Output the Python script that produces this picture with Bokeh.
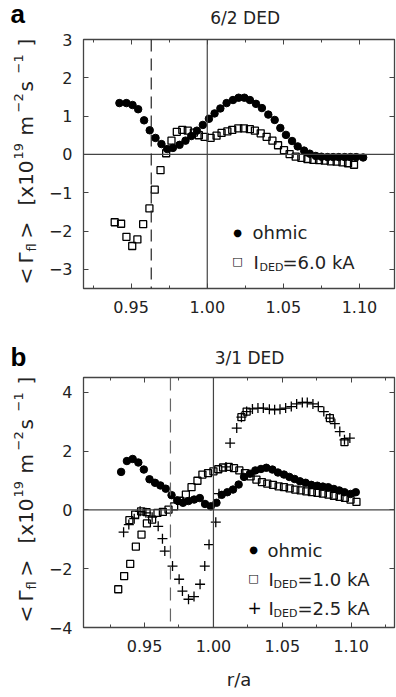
import math
from bokeh.plotting import figure
from bokeh.models import (Range1d, LinearAxis, FixedTicker, Span, Label,
                          CustomJSTickFormatter, ColumnDataSource)
from bokeh.layouts import column, row
from bokeh.embed import file_html
from bokeh.resources import INLINE

# ---------------- data: panel a (6/2 DED) ----------------
a_ohmic_r = [0.9423, 0.9469, 0.9509, 0.9546, 0.9585, 0.9622, 0.9660, 0.9699, 0.9737, 0.9774,
             0.9818, 0.9857, 0.9895, 0.9932, 0.9971, 1.0011, 1.0048, 1.0086, 1.0127, 1.0169,
             1.0206, 1.0244, 1.0280, 1.0320, 1.0359, 1.0401, 1.0443, 1.0480, 1.0517, 1.0557,
             1.0594, 1.0636, 1.0673, 1.0713, 1.0750, 1.0790, 1.0827, 1.0864, 1.0903, 1.0941,
             1.0978, 1.1024]
a_ohmic_g = [1.34, 1.34, 1.29, 1.18, 0.89, 0.63, 0.43, 0.27, 0.14, 0.17,
             0.25, 0.36, 0.48, 0.62, 0.77, 0.93, 1.07, 1.20, 1.34, 1.42,
             1.48, 1.48, 1.42, 1.32, 1.21, 1.04, 0.90, 0.69, 0.51, 0.35,
             0.21, 0.10, 0.02, -0.04, -0.06, -0.07, -0.07, -0.07, -0.07, -0.07,
             -0.07, -0.08]

a_ded_r = [0.9392, 0.9434, 0.9469, 0.9507, 0.9541, 0.9579, 0.9620, 0.9655, 0.9693, 0.9730,
           0.9765, 0.9800, 0.9836, 0.9872, 0.9912, 0.9945, 0.9982, 1.0022, 1.0061, 1.0094,
           1.0132, 1.0164, 1.0204, 1.0241, 1.0280, 1.0313, 1.0351, 1.0390, 1.0428, 1.0465,
           1.0504, 1.0541, 1.0581, 1.0618, 1.0658, 1.0697, 1.0734, 1.0772, 1.0811, 1.0850,
           1.0888, 1.0925, 1.0964]
a_ded_g = [-1.77, -1.81, -2.15, -2.39, -2.22, -1.82, -1.41, -0.92, -0.41, 0.03,
           0.36, 0.59, 0.64, 0.62, 0.57, 0.50, 0.46, 0.43, 0.49, 0.56,
           0.60, 0.64, 0.68, 0.68, 0.66, 0.62, 0.55, 0.46, 0.36, 0.24,
           0.11, 0.01, -0.06, -0.09, -0.12, -0.14, -0.15, -0.16, -0.18, -0.19,
           -0.21, -0.23, -0.27]

# ---------------- data: panel b (3/1 DED) ----------------
b_ohmic_r = [0.9330, 0.9372, 0.9414, 0.9455, 0.9495, 0.9536, 0.9576, 0.9615, 0.9654, 0.9696,
             0.9737, 0.9779, 0.9819, 0.9860, 0.9901, 0.9939, 0.9981, 1.0022, 1.0060, 1.0101,
             1.0142, 1.0183, 1.0222, 1.0265, 1.0304, 1.0345, 1.0384, 1.0428, 1.0468, 1.0512,
             1.0551, 1.0589, 1.0628, 1.0669, 1.0710, 1.0754, 1.0794, 1.0833, 1.0874, 1.0913,
             1.0951, 1.0995, 1.1033]
b_ohmic_g = [1.29, 1.66, 1.73, 1.61, 1.37, 1.04, 0.92, 0.83, 0.72, 0.50,
             0.32, 0.24, 0.30, 0.35, 0.40, 0.20, 0.12, 0.24, 0.51, 0.60,
             0.69, 0.86, 1.12, 1.23, 1.34, 1.39, 1.43, 1.37, 1.27, 1.20,
             1.12, 1.05, 0.97, 0.92, 0.85, 0.82, 0.79, 0.77, 0.71, 0.66,
             0.60, 0.54, 0.60]

b_ded1_r = [0.9309, 0.9352, 0.9396, 0.9437, 0.9478, 0.9517, 0.9555,
            0.9390, 0.9432, 0.9475, 0.9515, 0.9594, 0.9633, 0.9674, 0.9715, 0.9756,
            0.9800, 0.9841, 0.9884, 0.9920, 0.9961, 1.0000, 1.0035, 1.0070, 1.0111,
            1.0149, 1.0188, 1.0229, 1.0270, 1.0312, 1.0352, 1.0391, 1.0432, 1.0473,
            1.0512, 1.0553, 1.0594, 1.0633, 1.0674, 1.0714, 1.0754, 1.0794, 1.0835,
            1.0874, 1.0915, 1.0954, 1.0995, 1.1038,
            1.0203, 1.0241, 1.0845, 1.0951]
b_ded1_g = [-2.70, -2.25, -1.84, -1.25, -0.84, -0.46, -0.33,
            -0.35, -0.16, -0.05, -0.08, -0.10, -0.07, 0.01, 0.12, 0.31,
            0.52, 0.77, 0.99, 1.20, 1.25, 1.31, 1.38, 1.44, 1.46,
            1.42, 1.34, 1.25, 1.14, 1.03, 0.94, 0.89, 0.85, 0.80,
            0.77, 0.73, 0.69, 0.66, 0.63, 0.60, 0.58, 0.55, 0.52,
            0.48, 0.44, 0.41, 0.35, 0.27,
            3.15, 3.34, 3.12, 2.30]

b_ded25_r = [0.9348, 0.9386, 0.9425, 0.9468, 0.9510, 0.9555, 0.9599, 0.9630, 0.9647, 0.9703,
             0.9751, 0.9775, 0.9819, 0.9859, 0.9903, 0.9937, 0.9968, 1.0017, 1.0040, 1.0091,
             1.0121, 1.0169, 1.0203, 1.0241, 1.0283, 1.0323, 1.0362, 1.0406, 1.0444, 1.0483,
             1.0524, 1.0565, 1.0604, 1.0645, 1.0681, 1.0722, 1.0761, 1.0801, 1.0845, 1.0881,
             1.0917, 1.0951, 1.0990]
b_ded25_g = [-0.76, -0.50, -0.30, -0.05, -0.10, -0.25, -0.56, -0.98, -1.40, -1.91,
             -2.36, -2.76, -3.04, -2.95, -2.53, -1.91, -1.18, -0.42, 0.55, 1.46,
             2.27, 2.78, 3.15, 3.34, 3.43, 3.46, 3.46, 3.42, 3.40, 3.42,
             3.46, 3.51, 3.60, 3.65, 3.65, 3.60, 3.51, 3.34, 3.12, 2.93,
             2.66, 2.38, 2.44]

x_ticks = [0.95, 1.00, 1.05, 1.10]
x_minor = [0.925, 0.975, 1.025, 1.075, 1.125]
a_y_ticks = [-3, -2, -1, 0, 1, 2, 3]
b_y_ticks = [-4, -2, 0, 2, 4]
a_edge = 0.9632
b_edge = 0.9688

# ---------------- layout constants ----------------
LW = 44            # width of the left text strip
MW = 352           # width of the main figure
FL = 83 - LW       # left border inside main figure
FR = 2             # right border
INK = "#222222"
AX = "#444444"
FONT = "DejaVu Sans"
BASE_SHIFT = 0.3   # empirical: rendered baseline sits ~0.3em below the anchor


def make_main(height, top_border, bot_border, xr, yr, yticks, xlabel=None):
    p = figure(width=MW, height=height, x_range=Range1d(*xr), y_range=Range1d(*yr),
               title=None, output_backend="svg", toolbar_location=None,
               min_border_left=FL, min_border_right=FR,
               min_border_top=top_border, min_border_bottom=bot_border)
    p.grid.visible = False
    p.outline_line_color = AX
    p.outline_line_width = 1.3
    p.add_layout(LinearAxis(), "above")
    p.add_layout(LinearAxis(), "right")
    for ax in p.xaxis:
        ax.ticker = FixedTicker(ticks=x_ticks, minor_ticks=x_minor)
        ax.formatter = CustomJSTickFormatter(code="return tick.toFixed(2);")
    for ax in p.yaxis:
        ax.ticker = FixedTicker(ticks=yticks, minor_ticks=[])
        ax.formatter = CustomJSTickFormatter(
            code="return (tick < 0 ? '\\u2212' : '') + Math.abs(tick).toFixed(0);")
    for ax in p.axis:
        ax.major_tick_in = 5
        ax.major_tick_out = 0
        ax.minor_tick_in = 3
        ax.minor_tick_out = 0
        ax.axis_line_color = AX
        ax.major_tick_line_color = AX
        ax.minor_tick_line_color = AX
        ax.major_label_text_font = FONT
        ax.major_label_text_font_size = "16px"
        ax.major_label_text_color = INK
    for ax in p.below:
        ax.major_label_standoff = 12
        if xlabel:
            ax.axis_label = xlabel
            ax.axis_label_text_font = FONT
            ax.axis_label_text_font_size = "18px"
            ax.axis_label_text_font_style = "normal"
            ax.axis_label_text_color = INK
            ax.axis_label_standoff = 14
    for ax in p.left:
        ax.major_label_standoff = 11
    for ax in p.above + p.right:
        ax.formatter = CustomJSTickFormatter(code="return '';")
        ax.major_label_standoff = 0
    p.add_layout(Span(location=0, dimension="width", line_color=AX, line_width=1.2))
    p.add_layout(Span(location=1.0, dimension="height", line_color=AX, line_width=1.2))
    return p


def make_text_fig(width, height, x0, y0):
    """A bare canvas whose data coordinates are page pixels (y downwards)."""
    p = figure(width=width, height=height, title=None,
               x_range=Range1d(x0, x0 + width), y_range=Range1d(y0 + height, y0),
               output_backend="svg", toolbar_location=None,
               x_axis_location=None, y_axis_location=None,
               min_border=0, min_border_left=0, min_border_right=0,
               min_border_top=0, min_border_bottom=0)
    p.grid.visible = False
    p.outline_line_color = None
    return p


def ident(px, py):
    return px, py


def txt(p, px, py, text, size, conv=ident, font=FONT, align="left", baseline="alphabetic",
        angle=0.0, style="normal", color=INK):
    """(px, py) is the wanted baseline position in page pixels."""
    if baseline == "alphabetic":
        if angle == 0.0:
            py -= BASE_SHIFT * size
        else:
            px -= BASE_SHIFT * size
    x, y = conv(px, py)
    p.add_layout(Label(x=x, y=y, text=text, text_font=font, text_font_size=f"{size}px",
                       text_align=align, text_baseline=baseline, angle=angle,
                       text_font_style=style, text_color=color))


def main_conv(fl, fr, ft, fb, xr, yr):
    """page pixel -> data coords inside a main figure's frame (for legend text)"""
    def conv(px, py):
        xd = xr[0] + (px - fl) / (fr - fl) * (xr[1] - xr[0])
        yd = yr[1] - (py - ft) / (fb - ft) * (yr[1] - yr[0])
        return xd, yd
    return conv


# y-label pieces: (text, size, offset from frame top (start), dx)
YLAB = [("<", 20, 245, 0), ("Γ", 20, 224, 0), ("fl", 13, 212, 4), (">", 20, 199, 0),
        ("[x10", 20, 166, 0), ("19", 13, 120, -9), ("m", 20, 96, 0), ("−2", 13, 73, -9),
        ("s", 20, 52, 0), ("−1", 13, 34, -9), ("]", 20, 7, 0)]


def ylabel(p, frame_top_page):
    for t, s, off, dx in YLAB:
        txt(p, 31 + dx, frame_top_page + off, t, s, angle=math.pi / 2)


def points(p, r, g, kind):
    src = ColumnDataSource(dict(r=r, g=g))
    if kind == "circle":
        p.scatter("r", "g", source=src, marker="circle", size=7.5,
                  fill_color="black", line_color="black")
    elif kind == "square":
        p.scatter("r", "g", source=src, marker="square", size=7,
                  fill_color=None, line_color="black", line_width=1.3)
    else:
        p.scatter("r", "g", source=src, marker="cross", size=10,
                  line_color="black", line_width=1.3)


# ---------------- panel a ----------------
# page rows: 0..340 ; title strip 0..29 ; main fig 29..340 (frame 39..288)
A_TOP, A_H, A_TS = 0, 340, 29
A_FT, A_FB = 39, 288
XRA = (0.9187, 1.1230)
YRA = (-3.5, 3.0)
ya = make_text_fig(LW, A_H, 0, A_TOP)
ta = make_text_fig(MW, A_TS, LW, A_TOP)
ma = make_main(A_H - A_TS, A_FT - (A_TOP + A_TS), A_TOP + A_H - A_FB, XRA, YRA, a_y_ticks)
ca = main_conv(83, 394, A_FT, A_FB, XRA, YRA)

ma.add_layout(Span(location=a_edge, dimension="height", line_color="#222222",
                   line_width=1.2, line_dash="12 7"))
points(ma, a_ohmic_r, a_ohmic_g, "circle")
points(ma, a_ded_r, a_ded_g, "square")

txt(ya, 10, 21, "a", 26, font="Liberation Sans", style="bold", color="black")
ylabel(ya, A_FT)
txt(ta, 230, 23, "6/2  DED", 17, align="center")

txt(ma, 237, 232, "●", 10, conv=ca, align="center", baseline="middle", color="black")
txt(ma, 252, 237, "ohmic", 18, conv=ca)
txt(ma, 237, 261, "□", 11, conv=ca, align="center", baseline="middle", color="black")
txt(ma, 253, 267, "I", 18, conv=ca)
txt(ma, 259, 270, "DED", 11, conv=ca)
txt(ma, 282, 267, "=6.0  kA", 18, conv=ca)

# ---------------- panel b ----------------
# page rows: 340..697 ; title strip 340..368 ; main fig 368..697 (frame 377..627)
B_TOP, B_H, B_TS = 340, 357, 28
B_FT, B_FB = 377, 627
XRB = (0.9057, 1.1314)
YRB = (-4.0, 4.5)
yb = make_text_fig(LW, B_H, 0, B_TOP)
tb = make_text_fig(MW, B_TS, LW, B_TOP)
mb = make_main(B_H - B_TS, B_FT - (B_TOP + B_TS), B_TOP + B_H - B_FB, XRB, YRB, b_y_ticks,
               xlabel="r/a")
cb = main_conv(83, 394, B_FT, B_FB, XRB, YRB)

mb.add_layout(Span(location=b_edge, dimension="height", line_color="#666666",
                   line_width=1.2, line_dash="13 8"))
points(mb, b_ohmic_r, b_ohmic_g, "circle")
points(mb, b_ded1_r, b_ded1_g, "square")
points(mb, b_ded25_r, b_ded25_g, "cross")

txt(yb, 10, 364, "b", 26, font="Liberation Sans", style="bold", color="black")
ylabel(yb, B_FT)
txt(tb, 235, 363, "3/1  DED", 17, align="center")

txt(mb, 253, 549, "●", 10, conv=cb, align="center", baseline="middle", color="black")
txt(mb, 267, 555, "ohmic", 18, conv=cb)
txt(mb, 253, 578, "□", 11, conv=cb, align="center", baseline="middle", color="black")
txt(mb, 268, 584, "I", 18, conv=cb)
txt(mb, 273, 587, "DED", 11, conv=cb)
txt(mb, 297, 584, "=1.0  kA", 18, conv=cb)
txt(mb, 254, 607, "+", 17, conv=cb, align="center", baseline="middle", color="black")
txt(mb, 268, 613, "I", 18, conv=cb)
txt(mb, 273, 616, "DED", 11, conv=cb)
txt(mb, 297, 613, "=2.5  kA", 18, conv=cb)

layout = column(
    row(ya, column(ta, ma, spacing=0), spacing=0),
    row(yb, column(tb, mb, spacing=0), spacing=0),
    spacing=0)
open("out.html", "w", encoding="utf-8").write(file_html(layout, INLINE))
